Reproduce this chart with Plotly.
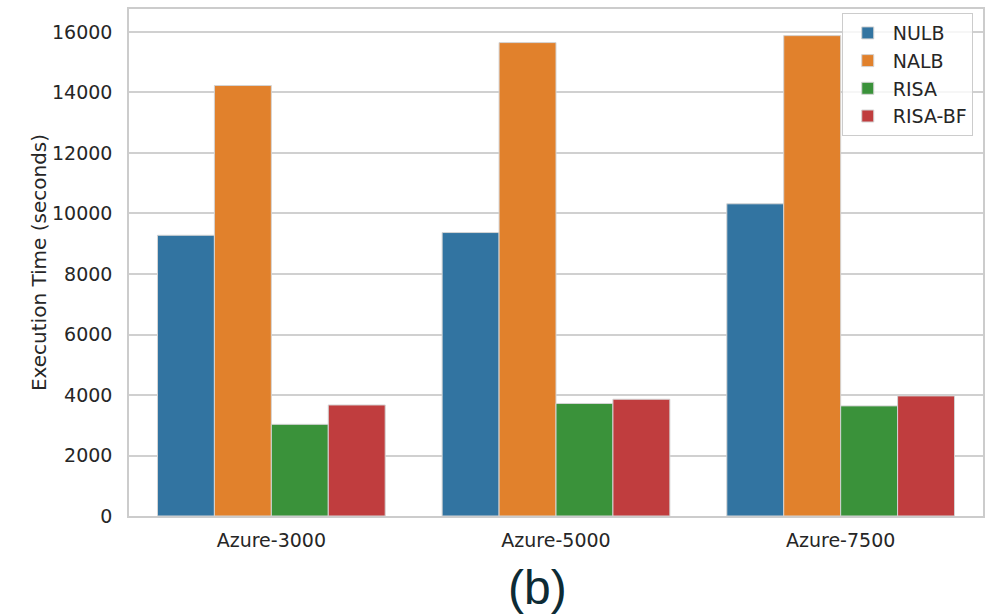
import plotly.graph_objects as go

# Workload traces on the x axis
workloads = ["Azure-3000", "Azure-5000", "Azure-7500"]

# Execution time (seconds) per scheduler
nulb = [9280, 9370, 10320]
nalb = [14230, 15650, 15880]
risa = [3030, 3720, 3640]
risa_bf = [3670, 3860, 3970]

series_names = ["NULB", "NALB", "RISA", "RISA-BF"]
series_values = [nulb, nalb, risa, risa_bf]
series_colors = ["#3274a1", "#e1812c", "#3a923a", "#c03d3e"]

y_ticks = [0, 2000, 4000, 6000, 8000, 10000, 12000, 14000, 16000]

fig = go.Figure()
for name, vals, col in zip(series_names, series_values, series_colors):
    fig.add_trace(go.Bar(
        x=workloads, y=vals, name=name,
        marker=dict(color=col, line=dict(color="#d4d4d4", width=1)),
    ))

text_color = "#262626"
grid_color = "#d0d0d0"

fig.update_layout(
    width=987, height=616,
    margin=dict(l=129, r=2, t=9, b=100),
    paper_bgcolor="white", plot_bgcolor="white",
    barmode="group", bargap=0.2, bargroupgap=0,
    font=dict(family="DejaVu Sans", size=19, color=text_color),
    legend=dict(
        x=0.988, y=0.992, xanchor="right", yanchor="top",
        bgcolor="rgba(255,255,255,0.8)", bordercolor="#cccccc", borderwidth=1,
        font=dict(size=19, color=text_color),
        itemwidth=40, tracegroupgap=1,
    ),
    showlegend=True,
)

fig.update_xaxes(
    range=[-0.5, 2.5],
    showgrid=False, showline=True, mirror=True,
    linecolor="#cccccc", linewidth=1.5,
    ticks="", ticklabelstandoff=6,
    tickfont=dict(size=19, color=text_color),
)
fig.update_yaxes(
    range=[0, 16760],
    tickvals=y_ticks, ticktext=[str(v) for v in y_ticks],
    showgrid=True, gridcolor=grid_color, gridwidth=1.5,
    zeroline=False,
    showline=True, mirror=True, linecolor="#cccccc", linewidth=1.5,
    ticks="", ticklabelstandoff=11,
    tickfont=dict(size=19, color=text_color),
    title=dict(text="Execution Time (seconds)", font=dict(size=20, color=text_color), standoff=0),
)

fig.add_annotation(
    text="(b)", xref="paper", yref="paper",
    x=0.478, y=-0.142, xanchor="center", yanchor="middle",
    showarrow=False,
    font=dict(family="Liberation Sans", size=48, color="#0d2b35"),
)

fig.write_html("out.html")
